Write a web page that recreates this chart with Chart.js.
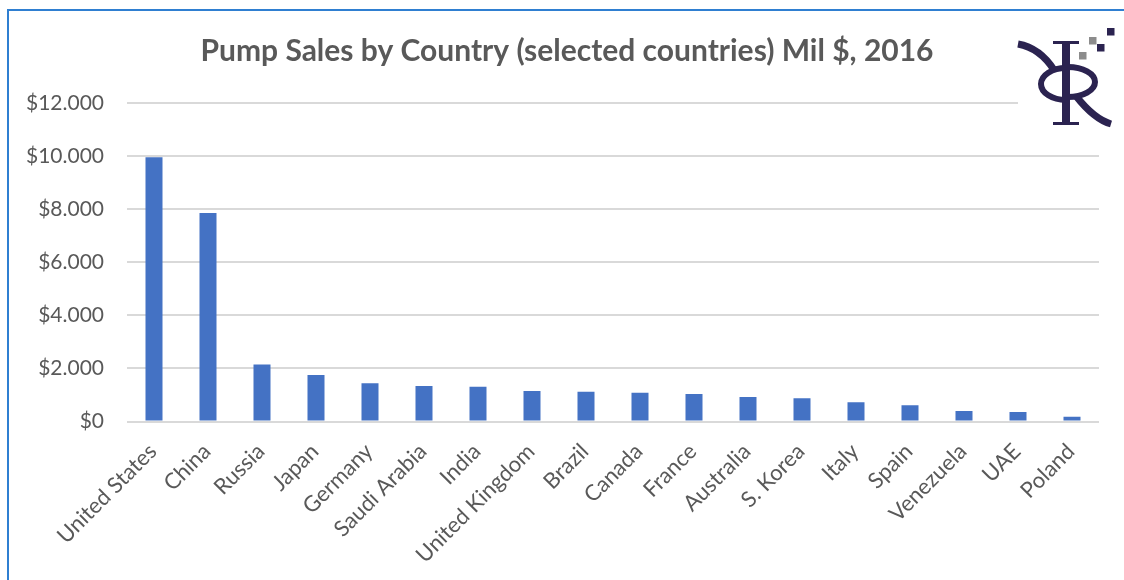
<!DOCTYPE html>
<html>
<head>
<meta charset="utf-8">
<script src="https://cdn.jsdelivr.net/npm/chart.js@4.4.1/dist/chart.umd.min.js"></script>
<style>
  html, body { margin: 0; padding: 0; background: #fff; }
  canvas { display: block; }
</style>
</head>
<body>
<canvas id="grafico" width="1124" height="580"></canvas>
<script>
// paesi e vendite di pompe (milioni di $)
const paesi = ['United States', 'China', 'Russia', 'Japan', 'Germany', 'Saudi Arabia', 'India',
  'United Kingdom', 'Brazil', 'Canada', 'France', 'Australia', 'S. Korea', 'Italy', 'Spain',
  'Venezuela', 'UAE', 'Poland'];
const vendite = [9960, 7860, 2150, 1750, 1440, 1340, 1310, 1150, 1120, 1085, 1035, 925, 875, 725, 610, 395, 360, 180];
const titolo = 'Pump Sales by Country (selected countries) Mil $, 2016';

const grigio = '#595959';

// formato $12.000 (punto come separatore delle migliaia)
function dollari(v) {
  return '$' + String(v).replace(/\B(?=(\d{3})+(?!\d))/g, '.');
}

// cornice blu, titolo e logo in alto a destra
const cornice = {
  id: 'cornice',
  beforeDraw(chart) {
    const ctx = chart.ctx;
    ctx.save();
    ctx.fillStyle = '#2F7FD1';
    ctx.fillRect(7, 9, 2, 571);
    ctx.fillRect(7, 9, 1117, 2);
    ctx.restore();
  },
  afterDraw(chart) {
    const ctx = chart.ctx;
    ctx.save();
    // titolo
    ctx.fillStyle = grigio;
    ctx.font = 'bold 30px Lato';
    ctx.textAlign = 'center';
    ctx.textBaseline = 'alphabetic';
    ctx.fillText(titolo, 567, 61);

    ctx.fillStyle = '#fff';
    ctx.fillRect(1018, 20, 100, 112);

    const blu = '#2B2350';
    ctx.fillStyle = blu;
    ctx.strokeStyle = blu;
    // asta e grazie
    ctx.fillRect(1062, 42, 8, 83);
    ctx.fillRect(1053, 41, 26, 3);
    ctx.fillRect(1053, 122, 26, 3);
    // occhiello sinistro
    ctx.lineWidth = 6;
    ctx.beginPath();
    ctx.ellipse(1066, 84, 25, 16, 0, Math.PI / 2, Math.PI * 1.5);
    ctx.stroke();
    // occhiello destro
    ctx.beginPath();
    ctx.ellipse(1068, 82, 27, 15, 0, -Math.PI / 2, Math.PI / 2);
    ctx.stroke();
    // gambe
    ctx.lineWidth = 7;
    ctx.lineCap = 'butt';
    ctx.beginPath();
    ctx.moveTo(1054, 70);
    ctx.quadraticCurveTo(1040, 48, 1018, 44);
    ctx.stroke();
    ctx.beginPath();
    ctx.moveTo(1076, 96);
    ctx.quadraticCurveTo(1094, 119, 1111, 124);
    ctx.stroke();
    // quadratini
    const q = [[1107, 28, blu], [1089, 37, '#8C8C8C'], [1097, 44, blu], [1079, 52, '#8C8C8C']];
    q.forEach(([x, y, c]) => { ctx.fillStyle = c; ctx.fillRect(x, y, 7.5, 7.5); });
    ctx.restore();
  }
};

new Chart('grafico', {
  type: 'bar',
  data: {
    labels: paesi,
    datasets: [{
      data: vendite,
      backgroundColor: '#4472C4',
      barPercentage: 0.315,
      categoryPercentage: 1
    }]
  },
  options: {
    responsive: false,
    animation: false,
    devicePixelRatio: 1,
    layout: { padding: { left: 0, right: 25, top: 103, bottom: 0 } },
    plugins: {
      legend: { display: false },
      tooltip: { enabled: false },
      title: { display: false }
    },
    scales: {
      x: {
        grid: { display: false },
        border: { display: false },
        ticks: {
          color: grigio,
          font: { family: 'Lato', size: 22 },
          minRotation: 45,
          maxRotation: 45,
          padding: 9,
          labelOffset: -1
        },
        afterFit(scale) { scale.height = 158.5; }
      },
      y: {
        min: 0,
        max: 12000,
        grid: { color: '#D9D9D9', lineWidth: 2, drawTicks: false },
        border: { display: false },
        ticks: {
          stepSize: 2000,
          color: grigio,
          font: { family: 'Lato', size: 21 },
          padding: 23,
          callback: v => dollari(v)
        },
        afterFit(scale) { scale.width = 127; }
      }
    }
  },
  plugins: [cornice]
});
</script>
</body>
</html>
